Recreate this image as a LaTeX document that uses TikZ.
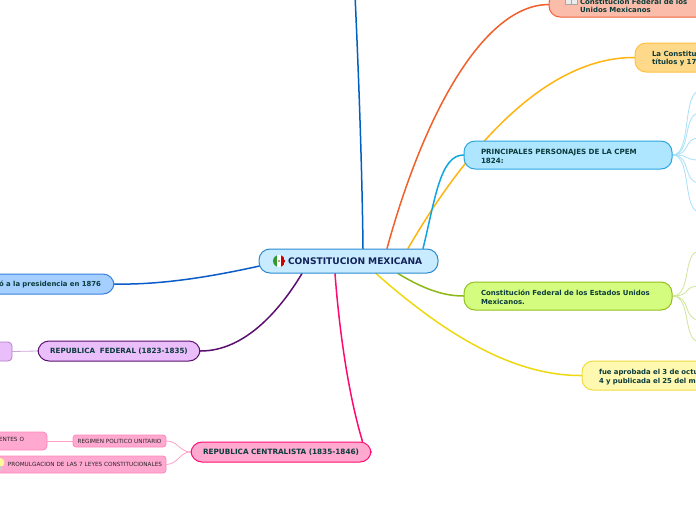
\documentclass[tikz,border=0pt]{standalone}
\usepackage{fontspec}
\setmainfont{DejaVu Sans}
\usetikzlibrary{backgrounds,calc}
\definecolor{txt}{HTML}{0B3B3B}
\definecolor{navy}{HTML}{12235A}
\definecolor{cF}{HTML}{C8EBFF}\definecolor{cD}{HTML}{2A8AD0}
\definecolor{sF}{HTML}{FBBDAA}\definecolor{sD}{HTML}{F0603A}
\definecolor{oF}{HTML}{FFD98A}\definecolor{oD}{HTML}{FFC040}
\definecolor{pF}{HTML}{AEE5FF}\definecolor{pD}{HTML}{2AA5E0}
\definecolor{gF}{HTML}{D4FD80}\definecolor{gD}{HTML}{94BE1E}
\definecolor{yF}{HTML}{FFF8B0}\definecolor{yD}{HTML}{F0DC3C}
\definecolor{bF}{HTML}{A5CFFF}\definecolor{bD}{HTML}{3A80E0}
\definecolor{vF}{HTML}{EABDFB}\definecolor{vD}{HTML}{5E1070}\definecolor{vL}{HTML}{B080C8}
\definecolor{mF}{HTML}{FFA8D0}\definecolor{mD}{HTML}{FF1070}\definecolor{mL}{HTML}{FF88BC}
\definecolor{lTop}{HTML}{0060C0}\definecolor{lRed}{HTML}{F0602A}\definecolor{lOra}{HTML}{FFB410}
\definecolor{lCy}{HTML}{10A5E0}\definecolor{lOl}{HTML}{8CB814}\definecolor{lYe}{HTML}{EED810}
\definecolor{lBl}{HTML}{0A5CC8}\definecolor{lVi}{HTML}{5A0F70}\definecolor{lMa}{HTML}{FF0A70}
\definecolor{tCy}{HTML}{A8E0FA}\definecolor{tGr}{HTML}{CFE59A}\definecolor{tMa}{HTML}{FFA0CC}\definecolor{tVi}{HTML}{C8A8D8}
\newcommand{\capsf}[1]{\bfseries\fontsize{#1}{8.5}\selectfont}
\newcommand{\dn}{\rule{0pt}{8pt}}
\tikzset{
  x=1pt,y=-1pt,
  box/.style n args={2}{draw=#2,fill=#1,rounded corners=11pt,line width=1pt,inner sep=0pt,
     text=txt,font=\bfseries\fontsize{7}{8.5}\selectfont},
  leaf/.style n args={2}{draw=#2,fill=#1,rounded corners=3pt,line width=.8pt,inner sep=0pt,
     text=black!85,font=\fontsize{5.7}{6.5}\selectfont},
  link/.style={line width=1.5pt,line cap=round},
  thin link/.style={line width=.8pt,line cap=round}
}
\begin{document}
\begin{tikzpicture}
\useasboundingbox (0,0) rectangle (696,520);
% central
\node[box={cF}{cD},minimum width=179pt,minimum height=24pt,text width=175pt,align=left,text=navy,font=\bfseries\fontsize{9.1}{10}\selectfont] (c) at (348.5,261) {\hspace*{27pt}CONSTITUCION\ MEXICANA};
% right main
\node[box={sF}{sD},minimum width=300pt,minimum height=25pt,text width=238pt,align=left] (sal) at (699,4.5) {\dn Constitución Federal de los\\Unidos Mexicanos};
\node[box={oF}{oD},minimum width=200pt,minimum height=29pt,text width=166pt,align=left] (ora) at (735,57.5) {\dn La Constitu\\títulos y 17};
\node[box={pF}{pD},minimum width=208pt,minimum height=28pt,text width=174pt,align=left,font=\capsf{7.14}] (per) at (568,155) {\dn PRINCIPALES PERSONAJES DE LA CPEM\\1824:};
\node[box={gF}{gD},minimum width=208pt,minimum height=28pt,text width=174pt,align=left,font=\capsf{6.95}] (fed) at (568,296) {\dn Constitución Federal de los Estados Unidos\\Mexicanos.};
\node[box={yF}{yD},minimum width=200pt,minimum height=29pt,text width=166pt,align=left,font=\capsf{6.9}] (yel) at (682,375.5) {\dn fue aprobada el 3 de octu\\4 y publicada el 25 del m};
% left main
\node[box={bF}{bD},minimum width=214pt,minimum height=20pt,text width=188pt,align=right,font=\capsf{6.9}] (pre) at (7,284) {ó a la presidencia en 1876};
\node[box={vF}{vD},minimum width=162pt,minimum height=20pt,text width=140pt,align=center,font=\capsf{7.15}] (rep) at (119,351) {REPUBLICA\ \ FEDERAL (1823-1835)};
\node[leaf={vF}{vL},rounded corners=4pt,minimum width=60pt,minimum height=19pt] (pl) at (-18,351.5) {};
\node[box={mF}{mD},minimum width=180pt,minimum height=20pt,text width=160pt,align=center,font=\capsf{7.28}] (cen) at (281,452) {REPUBLICA CENTRALISTA (1835-1846)};
% pink leaves
\node[leaf={mF}{mL},minimum width=93pt,minimum height=12pt,text width=90pt,align=center] (reg) at (119.5,441) {REGIMEN POLITICO UNITARIO};
\node[leaf={mF}{mL},rounded corners=4pt,minimum width=87pt,minimum height=18pt,text width=41pt,align=right] (ent) at (3.5,441) {\raisebox{3pt}{ENTES O}};
\node[leaf={mF}{mL},minimum width=206pt,minimum height=17pt,text width=198pt,align=right] (pro) at (63,464.5) {PROMULGACION DE LAS 7 LEYES CONSTITUCIONALES};
% icons
\begin{scope}
  \clip (279,261) circle (6pt);
  \fill[green!50!black!80] (273,255) rectangle (277,267);
  \fill[white] (277,255) rectangle (281,267);
  \fill[red!80!black] (281,255) rectangle (285,267);
\end{scope}
\fill[brown!60!gray] (279,261) circle (1.2pt);
\draw[gray!70,fill=gray!15,line width=.6pt] (565,-3) rectangle (571,4) (571,-3) rectangle (577,4);
\fill[yellow!40] (0,462.5) circle (4.5pt);
\fill[gray!40] (-1,466) rectangle (2,470);
% connectors
\begin{scope}[on background layer]
  \fill[white] (0,0) rectangle (696,520);
  \coordinate (topend) at (355,-5);
  \draw[link,draw=lTop] ($(c.north)+(14.5,0)$) .. controls (362,160) and (358,60) .. (topend);
  \draw[link,draw=lRed] ($(c.north)+(38.5,0)$) .. controls (425,110) and (485,5) .. (sal.west);
  \draw[link,draw=lOra] ($(c.north)+(59.5,0)$) .. controls (465,150) and (545,57) .. (ora.west);
  \draw[link,draw=lCy] ($(c.north)+(74.5,0)$) .. controls (435,200) and (440,155) .. (per.west);
  \draw[link,draw=lOl] ($(c.south)+(49.5,0)$) .. controls (425,290) and (445,296) .. (fed.west);
  \draw[link,draw=lYe] ($(c.south)+(27.5,0)$) .. controls (440,330) and (510,376) .. (yel.west);
  \draw[link,draw=lBl] ($(c.west)+(1,5)$) .. controls (210,277) and (160,285) .. (pre.east);
  \draw[link,draw=lVi] ($(c.south)+(-46.5,0)$) .. controls (280,310) and (245,351) .. (rep.east);
  \draw[link,draw=lMa] ($(c.south)+(-13.5,0)$) .. controls (340,340) and (350,400) .. ($(cen.north east)+(-9,0)$);
  \draw[thin link,draw=tVi] (rep.west) -- (pl.east);
  \draw[thin link,draw=tMa] (cen.west) .. controls (180,452) and (178,441) .. (reg.east);
  \draw[thin link,draw=tMa] (cen.west) .. controls (180,452) and (178,464) .. (pro.east);
  \draw[thin link,draw=tMa] (reg.west) -- (ent.east);
  \foreach \n/\y in {a/91,b/113,d/138,e/160,f/183,g/212}{
    \coordinate (p\n) at (700,\y);
    \draw[thin link,draw=tCy] (per.east) .. controls (692,155) and (682,\y) .. (p\n);
  }
  \foreach \n/\y in {a/251,b/286,d/320,e/342}{
    \coordinate (f\n) at (700,\y);
    \draw[thin link,draw=tGr] (fed.east) .. controls (692,296) and (682,\y) .. (f\n);
  }
\end{scope}
\end{tikzpicture}
\end{document}
